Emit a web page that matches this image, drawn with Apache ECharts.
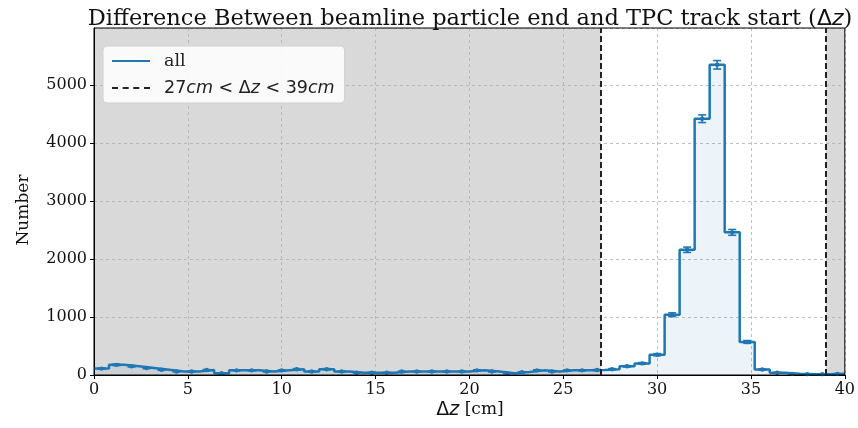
<!DOCTYPE html>
<html><head><meta charset="utf-8">
<script src="https://cdn.jsdelivr.net/npm/echarts@6/dist/echarts.min.js"></script>
<style>html,body{margin:0;padding:0;background:#fff}#c{width:858px;height:428px}</style>
</head><body><div id="c"></div><script>
// ---- data ----
const binStart = 0;
const binWidth = 0.8;
const counts = [110,175,150,120,90, 60,60,85,30,80, 80,60,80,100,60, 100,60,40,40,40,
  60,60,60,60,60, 80,60,30,50,80, 60,80,80,85,100, 150,200,350,1040,2160,
  4420,5350,2460,570,95, 40,20,15,15,20];
const errors = [10.5,13.2,12.2,11,9.5, 7.7,7.7,9.2,5.5,8.9, 8.9,7.7,8.9,10,7.7, 10,7.7,6.3,6.3,6.3,
  7.7,7.7,7.7,7.7,7.7, 8.9,7.7,5.5,7.1,8.9, 7.7,8.9,8.9,9.2,10, 12.2,14.1,18.7,32,46,
  66,73,50,24,9.7, 6.3,4.5,3.9,3.9,4.5];
const cutLow = 27, cutHigh = 39;
const shadedRanges = [[0, 27], [39, 40]];
const xTickLabels = [0,5,10,15,20,25,30,35,40];
const yTickLabels = [0,1000,2000,3000,4000,5000];

const stepPts = counts.map((v, i) => [binStart + i * binWidth, v]);
stepPts.push([binStart + counts.length * binWidth, counts[counts.length - 1]]);
const errData = counts.map((v, i) => [binStart + (i + 0.5) * binWidth, v, errors[i]]);

const SERIF = 'DejaVu Serif';
const SANS = 'DejaVu Sans';
const BLUE = '#1f77b4';

const chart = echarts.init(document.getElementById('c'), null, {renderer: 'canvas'});
chart.setOption({
  backgroundColor: '#fff',
  animation: false,
  grid: {left: 94, right: 12, top: 28, bottom: 53, show: true, borderColor: '#000', borderWidth: 1, backgroundColor: 'transparent', z: 5},
  xAxis: {
    type: 'value', min: 0, max: 40, interval: 5, z: 1,
    axisLine: {show: true, onZero: false, lineStyle: {color: '#000', width: 1}},
    axisTick: {show: true, length: 4, lineStyle: {color: '#000'}},
    axisLabel: {color: '#111', fontFamily: SERIF, fontSize: 16, margin: 7,
      formatter: v => xTickLabels.indexOf(v) >= 0 ? String(v) : ''},
    splitLine: {show: true, lineStyle: {color: '#b0b0b0', type: [3, 3], width: 0.8}}
  },
  yAxis: {
    type: 'value', min: 0, max: 5985, interval: 1000, z: 1,
    axisLine: {show: true, lineStyle: {color: '#000', width: 1}},
    axisTick: {show: true, length: 4, lineStyle: {color: '#000'}},
    axisLabel: {color: '#111', fontFamily: SERIF, fontSize: 16, margin: 7, showMaxLabel: false,
      formatter: v => yTickLabels.indexOf(v) >= 0 ? String(v) : ''},
    splitLine: {show: true, lineStyle: {color: '#b0b0b0', type: [3, 3], width: 0.8}}
  },
  legend: {
    data: [
      {name: 'all', icon: 'path://M0,0H38V2.2H0Z', itemStyle: {color: BLUE}},
      {name: 'cut', icon: 'path://M0,0H6V2.2H0Z M10.7,0H16.7V2.2H10.7Z M21.3,0H27.3V2.2H21.3Z M32,0H38V2.2H32Z', itemStyle: {color: '#222'}}
    ],
    orient: 'vertical', left: 103, top: 46,
    backgroundColor: 'rgba(255,255,255,0.85)', borderColor: '#d0d0d0', borderWidth: 1, borderRadius: 4,
    padding: [6, 10, 6, 9], itemGap: 9, itemWidth: 38, itemHeight: 20,
    textStyle: {fontSize: 17, color: '#222', fontFamily: SERIF, padding: [0, 0, 0, 9],
      rich: {
        s: {fontFamily: SERIF, fontSize: 17.5, color: '#222', lineHeight: 20},
        n: {fontFamily: SANS, fontSize: 17.5, color: '#222', lineHeight: 20},
        i: {fontFamily: SANS, fontSize: 17.5, fontStyle: 'italic', color: '#222', lineHeight: 20}
      }},
    formatter: name => name === 'cut' ? '{n|27}{i|cm}{n| < Δ}{i|z}{n| < 39}{i|cm}' : '{s|all}'
  },
  graphic: [
    {type: 'text', x: 470, y: 19, z: 10, style: {
      text: '{s|Difference Between beamline particle end and TPC track start (}{n|Δ}{i|z}{s|)}',
      align: 'center', verticalAlign: 'middle',
      rich: {
        s: {fontFamily: SERIF, fontSize: 22.5, fill: '#111'},
        n: {fontFamily: SANS, fontSize: 22, fill: '#111'},
        i: {fontFamily: SANS, fontSize: 22, fontStyle: 'italic', fill: '#111'}
      }}},
    {type: 'text', x: 470, y: 410, z: 10, style: {
      text: '{n|Δ}{i|z}{s| [cm]}', align: 'center', verticalAlign: 'middle',
      rich: {
        s: {fontFamily: SERIF, fontSize: 17, fill: '#111'},
        n: {fontFamily: SANS, fontSize: 19, fill: '#111'},
        i: {fontFamily: SANS, fontSize: 19, fontStyle: 'italic', fill: '#111'}
      }}},
    {type: 'text', x: 24, y: 210, rotation: Math.PI / 2, z: 10, style: {
      text: 'Number', align: 'center', verticalAlign: 'middle',
      font: '17px "DejaVu Serif"', fill: '#111'}}
  ],
  series: [
    {
      type: 'custom', name: 'shade', z: 0, silent: true,
      data: shadedRanges,
      renderItem: (params, api) => {
        const cs = params.coordSys;
        const a = api.coord([api.value(0), 0])[0];
        const b = api.coord([api.value(1), 0])[0];
        return {type: 'rect', shape: {x: a, y: cs.y, width: b - a, height: cs.height},
          style: {fill: '#d9d9d9'}};
      }
    },
    {
      type: 'line', name: 'all', step: 'end', z: 3, data: stepPts,
      symbol: 'none', showSymbol: false,
      lineStyle: {color: BLUE, width: 2.5},
      itemStyle: {color: BLUE},
      areaStyle: {color: 'rgba(31,119,180,0.12)', origin: 'start'}
    },
    {
      type: 'custom', name: 'err', z: 4, data: errData,
      renderItem: (params, api) => {
        const x = api.value(0), v = api.value(1), e = api.value(2);
        const lo = api.coord([x, v - e]);
        const hi = api.coord([x, v + e]);
        const c = api.coord([x, v]);
        const cap = 4;
        const st = {stroke: BLUE, lineWidth: 1.6};
        return {type: 'group', children: [
          {type: 'line', shape: {x1: lo[0], y1: lo[1], x2: hi[0], y2: hi[1]}, style: st},
          {type: 'line', shape: {x1: lo[0] - cap, y1: lo[1], x2: lo[0] + cap, y2: lo[1]}, style: st},
          {type: 'line', shape: {x1: hi[0] - cap, y1: hi[1], x2: hi[0] + cap, y2: hi[1]}, style: st},
          {type: 'circle', shape: {cx: c[0], cy: c[1], r: 2.2}, style: {fill: BLUE}}
        ]};
      }
    },
    {
      type: 'line', name: 'cut', z: 6, data: [],
      symbol: 'none',
      lineStyle: {color: '#222', width: 2, type: [6, 3]},
      itemStyle: {color: '#222'},
      markLine: {
        silent: true, symbol: ['none', 'none'], label: {show: false},
        lineStyle: {color: '#222', width: 2, type: [6, 3]},
        data: [{xAxis: cutLow}, {xAxis: cutHigh}]
      }
    }
  ]
});
</script></body></html>
